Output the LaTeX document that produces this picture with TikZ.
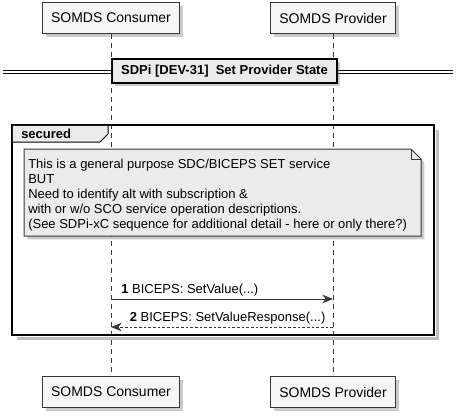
\documentclass[tikz,border=0pt]{standalone}
\usepackage{fontspec}
\setmainfont{Liberation Sans}
\usetikzlibrary{arrows.meta,shadows}

\definecolor{boxfill}{HTML}{F6F6F6}
\definecolor{notefill}{HTML}{EBEBEB}
\definecolor{lineclr}{HTML}{383838}

\tikzset{
	shad/.style={drop shadow={shadow xshift=2.5pt, shadow yshift=-2.5pt, fill=black!45, opacity=.45}},
	actor/.style={draw=lineclr, line width=.75pt, fill=boxfill, shad, minimum height=23pt, inner xsep=6.5pt, font=\fontsize{10.5}{12}\selectfont},
	divbox/.style={draw=black, line width=1.5pt, fill=notefill, shad, minimum height=18pt, inner xsep=7pt, font=\fontsize{9.75}{11.7}\selectfont\bfseries},
	life/.style={draw=lineclr, line width=.6pt, dash pattern=on 3.75pt off 3pt},
	msg/.style={draw=lineclr, line width=.75pt, -{Stealth[length=8pt, width=6.5pt, inset=2.5pt]}},
	msglbl/.style={anchor=base west, inner sep=0pt, font=\fontsize{9.75}{11.7}\selectfont},
	notetxt/.style={anchor=north west, inner sep=0pt, align=left, font=\fontsize{9.75}{11.25}\selectfont},
}

\begin{document}
\begin{tikzpicture}[x=0.75pt, y=-0.75pt]
		%\draw[lightgray] (0, 0) grid[step=20] (456, 418);
		\useasboundingbox (0, 0) rectangle (456, 418);

		% participants
		\node[actor] (consTop) at (111, 18) {SOMDS Consumer};
		\node[actor] (provTop) at (333, 18) {SOMDS Provider};
		\node[actor] (consBot) at (111, 392) {SOMDS Consumer};
		\node[actor] (provBot) at (333, 392) {SOMDS Provider};

		% group shadow, then lifelines
		\draw[black!25, line width=2.5pt] (437.5, 130) -- (437.5, 338.5) -- (17, 338.5);
		\draw[life] (consTop) -- (consBot);
		\draw[life] (provTop) -- (provBot);

		% divider
		\draw[draw=black, line width=.75pt, double=white, double distance=1.5pt] (3, 72) -- (453, 72);
		\node[divbox] (title) at (224.5, 71) {SDPi [DEV-31]\ \ Set Provider State};

		% group "secured"
		\draw[black, line width=1.5pt] (12, 125) rectangle (434, 335);
		\fill[notefill] (12.8, 125.8) -- (107.5, 125.8) -- (107.5, 134) -- (100, 142) -- (12.8, 142) -- cycle;
		\draw[black, line width=.75pt] (108, 125) -- (108, 134) -- (100, 142) -- (12, 142);
		\node[anchor=west, inner sep=0pt, font=\fontsize{9.75}{11.7}\selectfont\bfseries] (grp) at (21, 133.5) {secured};

		% note
		\filldraw[draw=lineclr, line width=.75pt, fill=notefill, shad] (24, 149) -- (411, 149) -- (421, 159) -- (421, 236) -- (24, 236) -- cycle;
		\draw[lineclr, line width=.75pt] (411, 149) -- (411, 159) -- (421, 159);
		\node[notetxt] (noteText) at (28, 158.5) {This is a general purpose SDC/BICEPS SET service\\BUT\\Need to identify alt with subscription \&\\with or w/o SCO service operation descriptions.\\(See SDPi-xC sequence for additional detail - here or only there?)};

		% messages
		\coordinate (s1) at (111, 299);
		\coordinate (r1) at (333, 299);
		\coordinate (s2) at (111, 327);
		\coordinate (r2) at (333, 327);
		\draw[msg] (s1) -- (r1);
		\node[msglbl] (lbl1) at (121, 293.5) {\textbf{1} BICEPS: SetValue(...)};
		\draw[msg, dash pattern=on 2pt off 1.5pt] (r2) -- (s2);
		\node[msglbl] (lbl2) at (129.5, 321.5) {\textbf{2} BICEPS: SetValueResponse(...)};
	\end{tikzpicture}
\end{document}
